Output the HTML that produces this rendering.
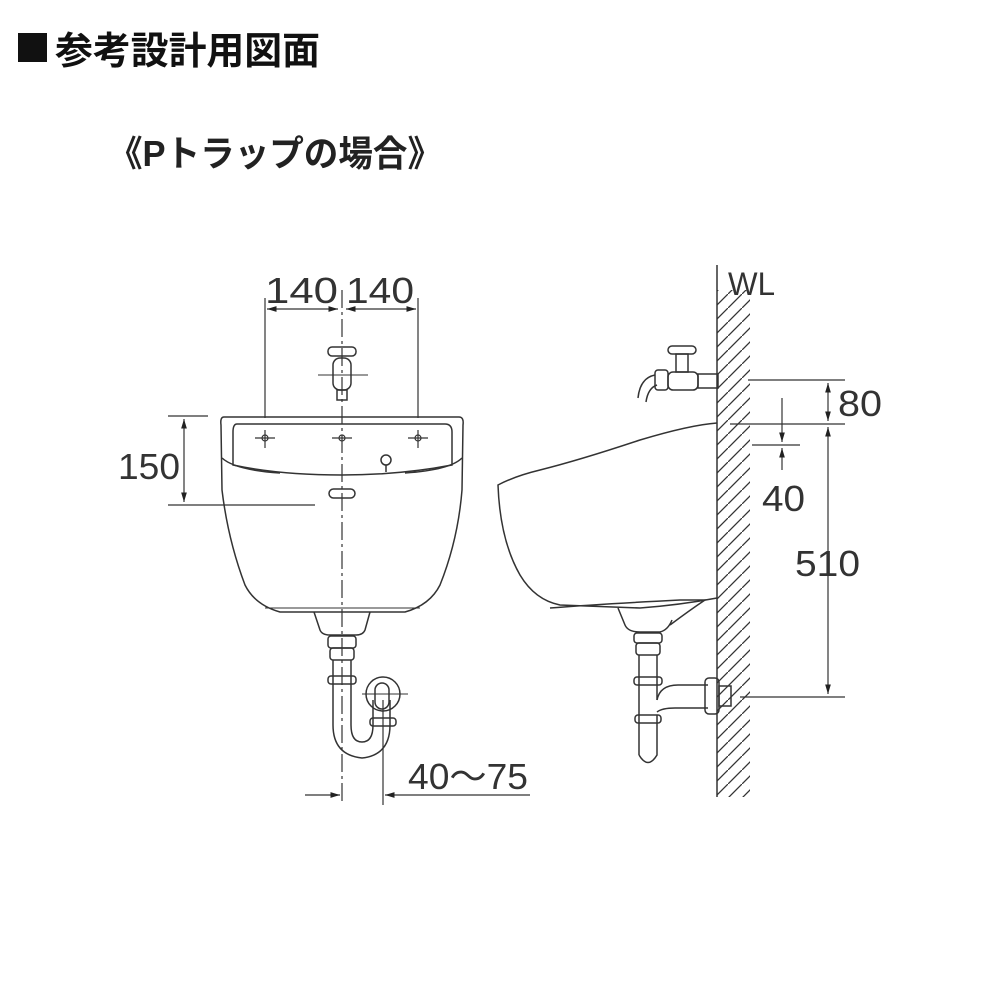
<!DOCTYPE html>
<html><head><meta charset="utf-8"><style>
html,body{margin:0;padding:0;background:#fff;width:1000px;height:1000px;overflow:hidden}
svg{display:block}
</style></head><body>
<svg width="1000" height="1000" viewBox="0 0 1000 1000" xmlns="http://www.w3.org/2000/svg">
<defs>
<marker id="a" viewBox="0 0 10 10" refX="10" refY="5" markerWidth="8" markerHeight="8" orient="auto-start-reverse"><path d="M0,2 L10,5 L0,8z" fill="#222"/></marker>
<pattern id="h" width="14" height="14" patternUnits="userSpaceOnUse"><path d="M-2,16 L16,-2" stroke="#333" stroke-width="1.3"/></pattern>
</defs>
<rect x="18" y="33" width="29" height="29" fill="#111"/>
<text x="55" y="64" font-size="38" font-weight="bold" fill="#111" textLength="265" lengthAdjust="spacingAndGlyphs" font-family="'Liberation Sans','Noto Sans CJK JP',sans-serif">参考設計用図面</text>
<text x="108" y="166" font-size="36" font-weight="bold" fill="#222" textLength="334" lengthAdjust="spacingAndGlyphs" font-family="'Liberation Sans','Noto Sans CJK JP',sans-serif">《Pトラップの場合》</text>

<g fill="none" stroke="#333" stroke-width="1.5">
<line x1="342" y1="290" x2="342" y2="805" stroke-dasharray="18,4,3,4" stroke-width="1.2"/>
<line x1="265" y1="298" x2="265" y2="418" stroke-width="1.2"/>
<line x1="418" y1="298" x2="418" y2="418" stroke-width="1.2"/>
<line x1="267" y1="309" x2="338" y2="309" marker-end="url(#a)" marker-start="url(#a)" stroke-width="1.2"/>
<line x1="346" y1="309" x2="416" y2="309" marker-end="url(#a)" marker-start="url(#a)" stroke-width="1.2"/>
<rect x="328" y="347" width="28" height="9" rx="4"/>
<rect x="333" y="358" width="18" height="32" rx="7"/>
<rect x="337" y="390" width="10" height="10"/>
<line x1="318" y1="375" x2="368" y2="375" stroke-width="1"/>
<path d="M224,417 L459,417 Q464,417 463,425 L462,490 Q458,540 440,585 Q430,605 405,612 L280,612 Q255,605 245,585 Q228,540 222,490 L221,425 Q220,417 224,417Z"/>
<path d="M237,424 L445,424 Q452,424 452,432 L452,465 Q400,475 342,475 Q280,475 233,465 L233,432 Q233,424 237,424Z"/>
<path d="M222,458 Q235,470 280,473"/><path d="M462,458 Q450,470 405,473"/>
<line x1="265" y1="608" x2="420" y2="608" stroke-width="1"/>
<path d="M314,612 L320,630 Q322,635 330,635 L356,635 Q363,635 365,630 L370,612"/>
<g stroke-width="1.2"><line x1="255" y1="438" x2="275" y2="438"/><line x1="265" y1="430" x2="265" y2="448"/><circle cx="265" cy="438" r="3"/>
<line x1="332" y1="438" x2="352" y2="438"/><circle cx="342" cy="438" r="3"/>
<line x1="408" y1="438" x2="428" y2="438"/><line x1="418" y1="430" x2="418" y2="448"/><circle cx="418" cy="438" r="3"/></g>
<circle cx="386" cy="460" r="5"/><line x1="386" y1="465" x2="386" y2="472"/>
<rect x="329" y="489" width="26" height="9" rx="4.5"/>
<line x1="168" y1="416" x2="208" y2="416" stroke-width="1.2"/>
<line x1="168" y1="505" x2="315" y2="505" stroke-width="1.2"/>
<line x1="184" y1="419" x2="184" y2="502" marker-end="url(#a)" marker-start="url(#a)" stroke-width="1.2"/>
<rect x="328" y="636" width="28" height="12" rx="3"/>
<rect x="330" y="648" width="24" height="12" rx="3"/>
<line x1="333" y1="660" x2="333" y2="725"/><line x1="351" y1="660" x2="351" y2="725"/>
<rect x="328" y="676" width="28" height="8" rx="3"/>
<path d="M333,725 Q333,755 362,758 Q390,755 390,725 L390,700"/>
<path d="M351,725 Q351,742 362,742 Q373,742 373,725 L373,700"/>
<circle cx="383" cy="694" r="17"/>
<rect x="375" y="683" width="14" height="26" rx="7"/>
<rect x="370" y="718" width="26" height="8" rx="3"/>
<line x1="362" y1="694" x2="408" y2="694" stroke-width="1"/>
<line x1="383" y1="700" x2="383" y2="805" stroke-width="1.2"/>
<line x1="305" y1="795" x2="340" y2="795" marker-end="url(#a)" stroke-width="1.2"/>
<line x1="530" y1="795" x2="385" y2="795" marker-end="url(#a)" stroke-width="1.2"/>

<rect x="717" y="290" width="33" height="507" fill="url(#h)" stroke="none"/>
<line x1="717" y1="265" x2="717" y2="797"/>
<path d="M717,423 Q690,425 640,440 Q580,460 540,470 Q515,476 498,485 Q500,540 520,575 Q535,600 560,605 L640,608 Q680,605 717,598"/>
<path d="M550,608 Q600,604 680,600 L705,600 Q690,610 670,625"/>
<path d="M618,608 L625,625 Q628,632 640,632 L660,632 Q668,630 672,620"/>
<rect x="668" y="346" width="28" height="8" rx="4"/>
<rect x="676" y="354" width="12" height="18"/>
<rect x="668" y="372" width="30" height="18" rx="5"/>
<rect x="698" y="374" width="20" height="14"/>
<rect x="655" y="370" width="13" height="20" rx="3"/>
<path d="M655,375 Q640,378 638,398 M657,385 Q648,388 646,402"/>
<rect x="634" y="633" width="28" height="10" rx="3"/>
<rect x="636" y="643" width="24" height="12" rx="3"/>
<line x1="639" y1="655" x2="639" y2="755"/><line x1="657" y1="655" x2="657" y2="700"/>
<rect x="634" y="677" width="28" height="8" rx="3"/>
<path d="M657,700 Q660,685 678,685 L708,685 M657,712 Q662,708 675,708 L708,708"/>
<path d="M639,755 Q648,770 657,755 L657,715"/>
<rect x="635" y="715" width="26" height="8" rx="3"/>
<rect x="705" y="678" width="14" height="36" rx="4"/>
<rect x="719" y="686" width="12" height="20"/>
<g stroke-width="1.2">
<line x1="748" y1="380" x2="845" y2="380"/>
<line x1="730" y1="424" x2="845" y2="424"/>
<line x1="752" y1="445" x2="800" y2="445"/>
<line x1="740" y1="697" x2="845" y2="697"/>
<line x1="828" y1="383" x2="828" y2="421" marker-end="url(#a)" marker-start="url(#a)"/>
<line x1="828" y1="427" x2="828" y2="694" marker-end="url(#a)" marker-start="url(#a)"/>
<line x1="782" y1="398" x2="782" y2="442" marker-end="url(#a)"/>
<line x1="782" y1="470" x2="782" y2="448" marker-end="url(#a)"/>
</g>
</g>
<g font-family="'Liberation Sans','Noto Sans CJK JP',sans-serif" font-size="36" fill="#333">
<text x="265" y="303" textLength="73" lengthAdjust="spacingAndGlyphs">140</text>
<text x="346" y="303" textLength="68" lengthAdjust="spacingAndGlyphs">140</text>
<text x="118" y="479" textLength="62" lengthAdjust="spacingAndGlyphs">150</text>
<text x="408" y="789" textLength="120" lengthAdjust="spacingAndGlyphs">40～75</text>
<text x="728" y="295" font-size="32" textLength="47" lengthAdjust="spacingAndGlyphs">WL</text>
<text x="838" y="416" textLength="44" lengthAdjust="spacingAndGlyphs">80</text>
<text x="762" y="511" textLength="43" lengthAdjust="spacingAndGlyphs">40</text>
<text x="795" y="576" textLength="65" lengthAdjust="spacingAndGlyphs">510</text>
</g>
</svg>
</body></html>
